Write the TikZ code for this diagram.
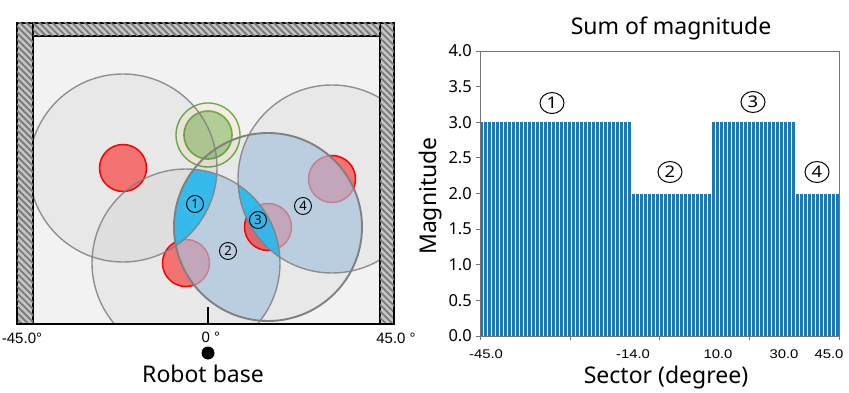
\documentclass[tikz,border=0pt]{standalone}
\usepackage{fontspec}
\usepackage{graphicx}
\setmainfont{Noto Sans}
\newfontfamily\arialfont{Liberation Sans}
\usepackage{tikz}
\usetikzlibrary{patterns.meta,shapes.geometric}
\definecolor{rfloor}{HTML}{F2F2F2}
\definecolor{rwall}{HTML}{C6C6C6}
\definecolor{rhatch}{HTML}{7A7A7A}
\definecolor{rgrey}{HTML}{808080}
\definecolor{rred}{HTML}{FF0000}
\definecolor{rlight}{HTML}{A9C6E2}
\definecolor{rcyan}{HTML}{1FB8EE}
\definecolor{rgreen}{HTML}{70AD47}
\definecolor{rgreenfill}{HTML}{B2CD96}
\definecolor{rbeige}{HTML}{F6ECE3}
\definecolor{rbar}{HTML}{1F77B4}
\newcommand{\rreach}{94pt}
\newcommand{\robst}{23.5pt}

\begin{document}
\begin{tikzpicture}[x=1pt,y=-1pt,every node/.style={inner sep=0pt},
  bigtxt/.style={font=\fontsize{23}{28}\selectfont},
  degtxt/.style={font=\arialfont\fontsize{15}{18}\selectfont,anchor=base},
  ytxt/.style={font=\fontsize{16.5}{20}\selectfont,anchor=east},
  xtxt/.style={font=\arialfont\fontsize{12.6}{15}\selectfont,anchor=base},
  zone/.style={circle,draw,line width=0.9pt,minimum size=17pt,
    font=\fontsize{13}{15}\selectfont},
  zonebig/.style={ellipse,draw,line width=1pt,minimum width=24pt,minimum height=21pt,
    font=\fontsize{16}{18}\selectfont},
  wall/.style={fill=rwall,draw=black,line width=1.4pt,
    postaction={pattern={Lines[angle=-45,distance=4.6pt,line width=1.9pt]},pattern color=rhatch}},
  reach/.style={draw=rgrey,line width=1.4pt},
  obst/.style={draw=rred,line width=1.5pt,fill=rred,fill opacity=0.5}]
  \useasboundingbox (0,0) rectangle (849,393);

  % obstacles and goal
  \coordinate (o1) at (123,168);
  \coordinate (o2) at (186,263);
  \coordinate (o3) at (268,227);
  \coordinate (o4) at (332,179);
  \coordinate (goal) at (208,135);

  % left panel: workspace
  \fill[rfloor] (33,36) rectangle (380,324);
  \begin{scope}
    \clip (33,36) rectangle (380,324);
    \fill[rbeige] (goal) circle[radius=32pt];
    \draw[rgreen,line width=1.4pt] (goal) circle[radius=32pt];
    \filldraw[fill=rgreenfill,draw=rgreen,line width=1.7pt] (goal) circle[radius=24pt];
    \foreach \o in {o1,o2,o3,o4}
      \fill[black,fill opacity=0.04] (\o) circle[radius=\rreach];
    \foreach \o in {o1,o2,o4}
      \filldraw[obst] (\o) circle[radius=\robst];
    % overlap with the sensing circle
    \begin{scope}
      \clip (o3) circle[radius=\rreach];
      \fill[rlight,fill opacity=0.65] (o2) circle[radius=\rreach];
    \end{scope}
    \filldraw[obst] (o3) circle[radius=\robst];
    \begin{scope}
      \clip (o3) circle[radius=\rreach];
      \fill[rlight,fill opacity=0.65] (o4) circle[radius=\rreach];
    \end{scope}
    \begin{scope}
      \clip (o3) circle[radius=\rreach];
      \clip (o2) circle[radius=\rreach];
      \fill[rcyan,fill opacity=0.85] (o1) circle[radius=\rreach];
      \fill[rcyan,fill opacity=0.85] (o4) circle[radius=\rreach];
    \end{scope}
    \foreach \o in {o1,o2,o4}
      \draw[reach,draw opacity=0.85] (\o) circle[radius=\rreach];
    \draw[reach,line width=1.9pt] (o3) circle[radius=\rreach];
  \end{scope}

  % walls
  \path[wall] (17,23) rectangle (33,324);
  \path[wall] (380,23) rectangle (394,324);
  \path[wall] (33,23) rectangle (380,36);
  \draw[line width=2pt] (17,324) -- (394,324);
  \foreach \x in {17,208,394}
    \draw[line width=2.6pt] (\x,307) -- (\x,324);
  \node[degtxt] (degl) at (22,343) {-45.0°};
  \node[degtxt] (degm) at (211,342) {0 °};
  \node[degtxt] (degr) at (396,343) {45.0 °};
  \fill (208,353) circle[radius=6.5pt];
  \node[bigtxt,anchor=base] (base) at (203,382) {Robot base};

  \node[zone] (z1) at (195,204) {1};
  \node[zone] (z2) at (228,251) {2};
  \node[zone] (z3) at (258,220) {3};
  \node[zone] (z4) at (303,206) {4};

  % right panel: histogram
  \foreach \a/\b/\h in {0/37/3,38/57/2,58/78/3,79/89/2}
    \foreach \i in {\a,...,\b}
      \fill[rbar] ({480+\i*3.99+0.5},336) rectangle ++(2.95,{-71.25*\h});
  \draw[black!55,line width=0.9pt] (480,51) rectangle (839,336);
  \foreach \v [count=\k from 0] in {0.0,0.5,1.0,1.5,2.0,2.5,3.0,3.5,4.0} {
    \draw[black!55,line width=0.9pt] (476,{336-35.625*\k}) -- (480,{336-35.625*\k});
    \node[ytxt] (ylab\k) at (472,{336-35.625*\k}) {\v};
  }
  \foreach \x in {480,570,659,749,839}
    \draw[black!55,line width=0.9pt] (\x,336) -- (\x,340);
  \foreach \x/\t [count=\k] in {486/-45.0,633/-14.0,718/10.0,784/30.0,829/45.0}
    \node[xtxt] (xlab\k) at (\x,358) {\scalebox{1.18}[1]{\t}};

  \node[bigtxt,anchor=base] (title) at (671,35) {Sum of magnitude};
  \node[bigtxt,anchor=base] (xaxis) at (666,383) {Sector (degree)};
  \node[bigtxt,rotate=90] (yaxis) at (431,196) {Magnitude};

  \node[zonebig] (h1) at (552,103) {\scalebox{1.15}[1]{1}};
  \node[zonebig] (h2) at (670,172) {\scalebox{1.15}[1]{2}};
  \node[zonebig] (h3) at (753,102) {\scalebox{1.15}[1]{3}};
  \node[zonebig] (h4) at (817,172) {\scalebox{1.15}[1]{4}};
\end{tikzpicture}
\end{document}
